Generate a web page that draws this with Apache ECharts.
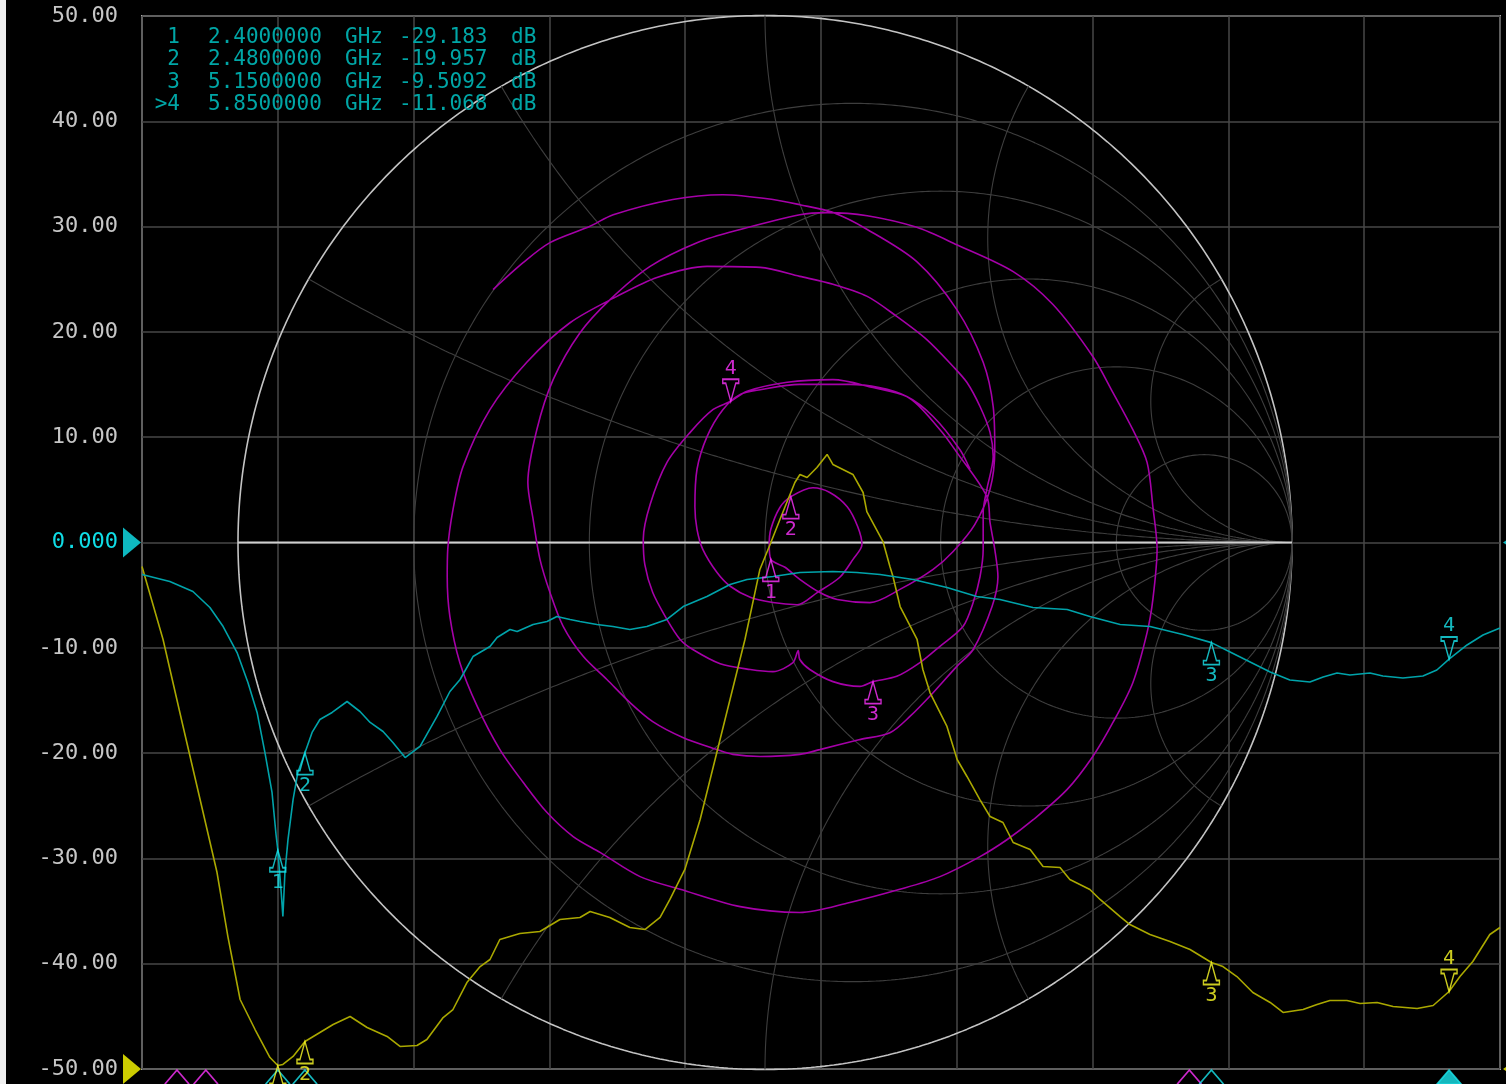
<!DOCTYPE html>
<html>
<head>
<meta charset="utf-8">
<title>VNA S11 display</title>
<script src="https://cdn.jsdelivr.net/npm/echarts/dist/echarts.min.js"></script>
<style>
html,body{margin:0;padding:0;background:#000;overflow:hidden;}
#chart{width:1506px;height:1084px;}
</style>
</head>
<body>
<div id="chart"></div>
<script>
// ---------------- data ----------------
const yTickValues = [50, 40, 30, 20, 10, 0, -10, -20, -30, -40, -50];

const cyanFreq = [2.000,2.082,2.150,2.200,2.239,2.280,2.312,2.339,2.362,2.383,2.395,2.400,2.410,2.415,2.421,2.430,2.445,2.459,2.480,2.501,2.524,2.560,2.604,2.642,2.672,2.710,2.739,2.775,2.819,2.869,2.907,2.937,2.975,3.025,3.046,3.084,3.105,3.152,3.193,3.222,3.261,3.290,3.340,3.387,3.437,3.487,3.546,3.594,3.664,3.732,3.782,3.859,3.938,4.035,4.106,4.174,4.271,4.371,4.459,4.527,4.624,4.725,4.792,4.881,4.969,5.066,5.150,5.205,5.264,5.323,5.381,5.440,5.479,5.520,5.558,5.617,5.655,5.714,5.773,5.814,5.850,5.903,5.950,6.000];
const cyanDb = [-3.04,-3.70,-4.65,-6.17,-7.98,-10.45,-13.30,-16.14,-19.94,-23.74,-27.8,-29.18,-33.2,-35.52,-31.34,-28.21,-24.41,-21.84,-19.96,-18.04,-16.81,-16.14,-15.10,-16.05,-17.09,-17.95,-18.99,-20.42,-19.37,-16.52,-14.15,-13.01,-10.83,-9.88,-9.02,-8.26,-8.45,-7.79,-7.50,-7.03,-7.31,-7.50,-7.79,-7.98,-8.26,-7.98,-7.31,-6.08,-5.13,-3.99,-3.51,-3.23,-2.85,-2.75,-2.85,-3.04,-3.51,-4.27,-5.13,-5.41,-6.17,-6.36,-7.03,-7.79,-7.98,-8.74,-9.51,-10.40,-11.35,-12.30,-13.06,-13.25,-12.77,-12.39,-12.58,-12.39,-12.68,-12.87,-12.68,-12.11,-11.07,-9.73,-8.78,-8.12];

const yellowFreq = [2.000,2.062,2.121,2.180,2.221,2.253,2.289,2.333,2.377,2.400,2.415,2.445,2.480,2.524,2.563,2.613,2.663,2.722,2.760,2.810,2.839,2.887,2.916,2.957,2.996,3.025,3.054,3.113,3.172,3.231,3.290,3.320,3.378,3.437,3.482,3.526,3.555,3.599,3.644,3.688,3.732,3.776,3.820,3.850,3.879,3.923,3.938,3.959,3.988,4.018,4.035,4.094,4.124,4.135,4.183,4.203,4.212,4.233,4.283,4.300,4.321,4.371,4.401,4.430,4.468,4.498,4.536,4.566,4.616,4.654,4.704,4.733,4.792,4.822,4.881,4.910,4.969,5.028,5.087,5.150,5.184,5.225,5.272,5.323,5.361,5.420,5.461,5.499,5.549,5.588,5.638,5.685,5.756,5.803,5.850,5.882,5.920,5.970,6.000];
const yellowDb = [-2.28,-9.21,-17.47,-25.64,-31.34,-37.42,-43.40,-46.25,-48.91,-49.67,-49.57,-48.81,-47.39,-46.53,-45.77,-45.01,-46.06,-46.91,-47.86,-47.77,-47.20,-45.11,-44.35,-41.79,-40.27,-39.60,-37.70,-37.13,-36.94,-35.80,-35.61,-35.04,-35.61,-36.56,-36.75,-35.61,-33.90,-31.05,-26.31,-20.61,-14.91,-9.21,-2.56,-0.19,2.18,5.70,6.46,6.17,7.12,8.36,7.41,6.46,4.75,2.94,0.05,-2.28,-3.23,-6.08,-9.21,-12.06,-14.25,-17.47,-20.61,-22.22,-24.41,-26.02,-26.59,-28.49,-29.15,-30.77,-30.86,-32.00,-32.95,-33.90,-35.52,-36.28,-37.23,-37.89,-38.65,-39.89,-40.27,-41.22,-42.74,-43.68,-44.63,-44.35,-43.87,-43.49,-43.49,-43.78,-43.68,-44.06,-44.25,-43.97,-42.64,-41.22,-39.79,-37.23,-36.56];

// reflection coefficient (real, imag) of the same sweep, 2.0 -> 6.0 GHz
const smithTrace = [
 [-0.516,0.480],[-0.459,0.531],[-0.408,0.569],[-0.332,0.600],[-0.288,0.622],[-0.175,0.651],[-0.080,0.660],[0.015,0.651],[0.066,0.641],[0.129,0.626],[0.194,0.594],[0.288,0.533],[0.364,0.442],[0.414,0.342],[0.433,0.258],[0.436,0.176],[0.427,0.101],[0.398,0.034],[0.357,-0.017],[0.319,-0.051],[0.256,-0.089],[0.199,-0.114],[0.137,-0.108],[0.104,-0.095],[0.066,-0.070],[0.038,-0.047],[0.011,-0.032],
 [0.008,-0.004],[0.011,0.025],[0.028,0.066],[0.049,0.087],
 [0.091,0.104],[0.123,0.095],[0.156,0.068],[0.176,0.030],[0.184,-0.004],[0.167,-0.032],[0.142,-0.066],[0.099,-0.095],[0.061,-0.118],[0.015,-0.114],[-0.028,-0.104],[-0.066,-0.083],[-0.091,-0.057],[-0.118,-0.013],[-0.129,0.025],[-0.133,0.068],[-0.129,0.139],[-0.110,0.201],[-0.080,0.252],[-0.047,0.281],[-0.009,0.290],[0.066,0.300],[0.161,0.300],[0.269,0.277],[0.332,0.214],[0.364,0.171],[0.421,0.087],[0.427,0.038],[0.436,-0.013],
 [0.442,-0.065],[0.431,-0.121],[0.395,-0.203],[0.364,-0.235],[0.319,-0.285],[0.275,-0.330],[0.237,-0.361],[0.180,-0.374],[0.104,-0.393],[0.066,-0.402],[-0.009,-0.406],[-0.061,-0.402],[-0.091,-0.393],[-0.156,-0.370],[-0.213,-0.340],[-0.256,-0.304],[-0.300,-0.260],[-0.345,-0.216],[-0.383,-0.159],[-0.408,-0.095],[-0.427,-0.032],[-0.440,0.044],[-0.450,0.114],[-0.433,0.214],[-0.402,0.309],[-0.351,0.398],[-0.294,0.461],[-0.218,0.524],[-0.129,0.569],[-0.047,0.594],[0.066,0.622],[0.118,0.626],[0.194,0.620],[0.288,0.598],[0.364,0.565],[0.471,0.514],[0.546,0.452],[0.622,0.353],[0.660,0.285],[0.698,0.214],[0.725,0.152],[0.736,0.068],[0.744,-0.013],
 [0.736,-0.108],[0.725,-0.171],[0.698,-0.266],[0.660,-0.342],[0.622,-0.406],[0.573,-0.469],[0.509,-0.526],[0.459,-0.564],[0.408,-0.596],[0.332,-0.634],[0.256,-0.658],[0.161,-0.683],[0.066,-0.702],[-0.047,-0.691],[-0.161,-0.658],[-0.237,-0.634],[-0.313,-0.588],[-0.364,-0.558],[-0.414,-0.512],[-0.459,-0.455],[-0.503,-0.393],[-0.546,-0.311],[-0.579,-0.228],[-0.598,-0.140],[-0.603,-0.065],[-0.602,-0.013],[-0.592,0.063],[-0.573,0.144],[-0.522,0.252],[-0.452,0.342],[-0.370,0.417],[-0.281,0.467],[-0.205,0.503],[-0.110,0.524],[-0.009,0.522],[0.066,0.505],[0.129,0.490],[0.194,0.467],[0.250,0.429],[0.307,0.385],[0.357,0.334],[0.383,0.304],[0.408,0.258],[0.427,0.209],[0.433,0.163],[0.421,0.101],[0.414,0.057],[0.414,-0.013],
 [0.408,-0.065],[0.395,-0.114],[0.376,-0.159],[0.332,-0.197],[0.294,-0.228],[0.250,-0.254],[0.205,-0.264],[0.180,-0.273],[0.129,-0.264],[0.085,-0.241],[0.066,-0.222],[0.063,-0.205],[0.053,-0.228],[0.015,-0.245],[-0.028,-0.241],[-0.085,-0.230],[-0.137,-0.203],[-0.161,-0.184],[-0.186,-0.146],[-0.213,-0.095],[-0.228,-0.042],[-0.231,0.006],[-0.218,0.072],[-0.186,0.152],[-0.142,0.209],[-0.099,0.252],[-0.065,0.268],[-0.034,0.287],[0.042,0.304],[0.129,0.309],[0.205,0.294],[0.269,0.277],[0.319,0.239],[0.370,0.176],[0.389,0.139]
];

const markerLabels = ['1', '2', '3', '4'];
const markerFreq = [2.40, 2.48, 5.15, 5.85];
const cyanMarkerDb = [-29.183, -19.957, -9.5092, -11.068];
const yellowMarkerDb = [-49.67, -47.39, -39.89, -42.64];
const smithMarkerRe = [0.011, 0.049, 0.205, -0.065];
const smithMarkerIm = [-0.032, 0.087, -0.264, 0.268];
const activeMarker = 3; // index of marker 4

const magentaStimulusMarks = [2.103, 2.188, 5.085];

const tableRows = [
  ['1', '2.4000000', 'GHz', '-29.183', 'dB'],
  ['2', '2.4800000', 'GHz', '-19.957', 'dB'],
  ['3', '5.1500000', 'GHz', '-9.5092', 'dB'],
  ['>4', '5.8500000', 'GHz', '-11.068', 'dB']
];

// Smith chart grid: constant resistance circles and constant reactance arcs
const smithR = [0, 0.2, 0.5, 1, 2, 5];
const smithX = [0.268, 0.577, 1, 1.732, 3.732];

// ---------------- styles ----------------
const FONT = "'DejaVu Sans Mono','Liberation Mono',monospace";
const CYAN_TRACE = '#00a3aa', CYAN_MARK = '#19e6ee';
const YEL_TRACE = '#aaa800', YEL_MARK = '#ffff28';
const MAG_TRACE = '#a500a8', MAG_MARK = '#ff33ff';
const UP = 'path://M8,0 L3,18 L0,18 L0,22 L16,22 L16,18 L13,18 Z';
const DOWN = 'path://M0,0 L16,0 L16,4 L13,4 L8,22 L3,4 L0,4 Z';

function gammaOf(r, x) {
  const a = r - 1, c = r + 1, den = c * c + x * x;
  return [(a * c + x * x) / den, (x * c - a * x) / den];
}

const smithGridSeries = [];
function gridLine(pts, color, width) {
  return {type: 'line', xAxisIndex: 1, yAxisIndex: 1, data: pts, symbol: 'none', showSymbol: false,
    silent: true, z: 2, animation: false, clip: false, lineStyle: {color: color, width: width}};
}
smithR.forEach(function (r) {
  const pts = [];
  for (let k = 0; k <= 720; k++) {
    const t = 2 * Math.PI * k / 720;
    pts.push([r / (1 + r) + Math.cos(t) / (1 + r), Math.sin(t) / (1 + r)]);
  }
  smithGridSeries.push(gridLine(pts, r === 0 ? '#c4c4c4' : '#3e3e3e', r === 0 ? 1.6 : 1.1));
});
smithX.forEach(function (x0) {
  [x0, -x0].forEach(function (x) {
    const pts = [];
    for (let k = 0; k < 500; k++) {
      const t = k / 500 * Math.PI / 2;
      pts.push(gammaOf(Math.tan(t), x));
    }
    pts.push([1, 0]);
    smithGridSeries.push(gridLine(pts, '#3e3e3e', 1.1));
  });
});
// real axis (r from 0 to infinity along x = 0)
smithGridSeries.push(gridLine([gammaOf(0, 0), [1, 0]], '#cfcfcf', 2.2));

function markerItems(points, color) {
  return points.map(function (p, i) {
    const down = i === activeMarker;
    return {
      value: p,
      symbol: down ? DOWN : UP,
      symbolSize: [16, 22],
      symbolOffset: [0, down ? -11 : 11],
      label: {show: true, formatter: markerLabels[i], position: down ? 'top' : 'bottom',
        distance: 0, color: color, fontSize: 20, fontFamily: FONT}
    };
  });
}
function markerSeries(points, color, onSmith) {
  return {type: 'scatter', xAxisIndex: onSmith ? 1 : 0, yAxisIndex: onSmith ? 1 : 0,
    data: markerItems(points, color), clip: false, z: 10, silent: true, animation: false,
    itemStyle: {color: 'rgba(0,0,0,0)', borderColor: color, borderWidth: 1.6}};
}

const chevron = 'path://M0,14 L12,0 L24,14';
const chevronFilled = 'path://M0,14 L12,0 L24,14 Z';
function stimulusSeries(freqs, color, filledIdx) {
  return {type: 'scatter', xAxisIndex: 0, yAxisIndex: 0, clip: false, z: 9, silent: true, animation: false,
    data: freqs.map(function (f, i) {
      const filled = i === filledIdx;
      return {value: [f, -50], symbol: filled ? chevronFilled : chevron, symbolSize: [24, 14], symbolOffset: [0, 8],
        itemStyle: {color: filled ? color : 'rgba(0,0,0,0)', borderColor: color, borderWidth: 1.5}};
    })};
}

const refArrowRight = 'path://M0,0 L18,15 L0,30 Z';
const refArrowLeft = 'path://M18,0 L0,15 L18,30 Z';
const refSeries = {type: 'scatter', xAxisIndex: 0, yAxisIndex: 0, clip: false, z: 11, silent: true, animation: false,
  data: [
    {value: [2.0, 0], symbol: refArrowRight, symbolSize: [18, 30], symbolOffset: [-10, 0], itemStyle: {color: '#12e6f0'}},
    {value: [2.0, -50], symbol: refArrowRight, symbolSize: [18, 30], symbolOffset: [-10, 0], itemStyle: {color: '#ffff00'}},
    {value: [6.0, 0], symbol: refArrowLeft, symbolSize: [12, 16], symbolOffset: [9, 0], itemStyle: {color: '#12e6f0'}},
    {value: [6.0, -50], symbol: refArrowLeft, symbolSize: [12, 16], symbolOffset: [9, 0], itemStyle: {color: '#ffff00'}}
  ]};

// marker table text
const colX = [180, 208, 345, 399, 511];
const colAlign = ['right', 'left', 'left', 'left', 'left'];
const tableGraphics = [];
tableRows.forEach(function (row, ri) {
  row.forEach(function (txt, ci) {
    tableGraphics.push({type: 'text', x: colX[ci], y: 37.5 + ri * 22.5, z: 100, silent: true,
      style: {text: txt, fill: '#00a6a6', font: '21px ' + FONT, align: colAlign[ci], verticalAlign: 'middle'}});
  });
});
tableGraphics.push({type: 'rect', shape: {x: 0, y: 0, width: 6, height: 1084}, style: {fill: '#f0f0f0'}, z: 100, silent: true});

const chart = echarts.init(document.getElementById('chart'), null, {renderer: 'canvas', width: 1506, height: 1084});
const option = {
  backgroundColor: '#000000',
  animation: false,
  grid: [
    {left: 142, top: 16, width: 1358, height: 1053, show: true, borderColor: '#a9a9a9', borderWidth: 2, backgroundColor: 'transparent'},
    {left: 238, top: 15.5, width: 1054, height: 1054, show: false}
  ],
  xAxis: [
    {type: 'value', gridIndex: 0, min: 2, max: 6, interval: 0.4,
      axisLine: {show: false}, axisTick: {show: false}, axisLabel: {show: false},
      splitLine: {show: true, lineStyle: {color: '#474747', width: 1.5}}},
    {type: 'value', gridIndex: 1, min: -1, max: 1, show: false, splitLine: {show: false}}
  ],
  yAxis: [
    {type: 'value', gridIndex: 0, min: yTickValues[yTickValues.length - 1], max: yTickValues[0], interval: 10,
      axisLine: {show: false}, axisTick: {show: false},
      axisLabel: {show: true, margin: 24, fontFamily: FONT, fontSize: 22,
        formatter: function (v) { return Number(v) === 0 ? '0.000' : Number(v).toFixed(2); },
        color: function (v) { return Number(v) === 0 ? '#10dde6' : '#c6c6c6'; }},
      splitLine: {show: true, lineStyle: {color: '#474747', width: 1.5}}},
    {type: 'value', gridIndex: 1, min: -1, max: 1, show: false, splitLine: {show: false}}
  ],
  graphic: tableGraphics,
  series: smithGridSeries.concat([
    {type: 'line', name: 'Smith', xAxisIndex: 1, yAxisIndex: 1, data: smithTrace, symbol: 'none', showSymbol: false,
      smooth: 0.3, clip: false, z: 4, lineStyle: {color: MAG_TRACE, width: 1.6}},
    {type: 'line', name: 'Trc2', xAxisIndex: 0, yAxisIndex: 0, data: yellowFreq.map(function (f, i) { return [f, yellowDb[i]]; }),
      symbol: 'none', showSymbol: false, z: 5, lineStyle: {color: YEL_TRACE, width: 1.6}},
    {type: 'line', name: 'S11', xAxisIndex: 0, yAxisIndex: 0, data: cyanFreq.map(function (f, i) { return [f, cyanDb[i]]; }),
      symbol: 'none', showSymbol: false, z: 6, lineStyle: {color: CYAN_TRACE, width: 1.6}},
    markerSeries(markerFreq.map(function (f, i) { return [f, yellowMarkerDb[i]]; }), YEL_MARK, false),
    markerSeries(markerFreq.map(function (f, i) { return [f, cyanMarkerDb[i]]; }), CYAN_MARK, false),
    markerSeries(smithMarkerRe.map(function (r, i) { return [r, smithMarkerIm[i]]; }), MAG_MARK, true),
    stimulusSeries(magentaStimulusMarks, MAG_MARK, -1),
    stimulusSeries(markerFreq, CYAN_MARK, activeMarker),
    refSeries
  ])
};
chart.setOption(option);
</script>
</body>
</html>
